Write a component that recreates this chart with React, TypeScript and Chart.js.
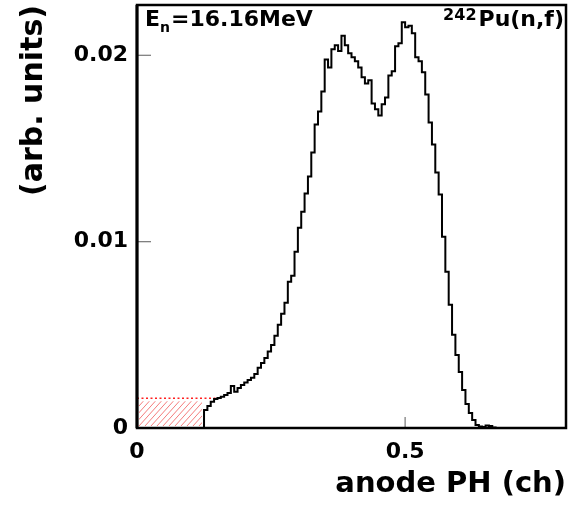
import React, { useEffect, useRef } from "react";
import { Chart, registerables } from "chart.js";

Chart.register(...registerables);

// ---- data ----
const BIN_START = 0.125;
const BIN_WIDTH = 0.00625;
const COUNTS = [
  0.00097, 0.00118, 0.00141, 0.00156, 0.00161, 0.00168, 0.00177, 0.00188, 0.00226, 0.00195,
  0.00215, 0.00231, 0.00244, 0.00258, 0.00269, 0.0029, 0.00323, 0.00349, 0.00376, 0.0041,
  0.00446, 0.00495, 0.00554, 0.00613, 0.00672, 0.00785, 0.00817, 0.00946, 0.01075, 0.01161,
  0.01258, 0.01349, 0.01478, 0.01629, 0.01699, 0.01806, 0.01978, 0.01935, 0.02032, 0.02054,
  0.02023, 0.02105, 0.02054, 0.02011, 0.01989, 0.01968, 0.01935, 0.01882, 0.01849, 0.01866,
  0.01742, 0.0171, 0.01677, 0.01737, 0.01774, 0.01892, 0.01914, 0.02048, 0.02065, 0.02177,
  0.02151, 0.02158, 0.02118, 0.01989, 0.01968, 0.01909, 0.0179, 0.0164, 0.01522, 0.01371,
  0.01253, 0.01027, 0.00839, 0.00661, 0.005, 0.00392, 0.00301, 0.00204, 0.00129, 0.00081,
  0.00043, 0.00016, 0.00008, 0.00005, 0.00013, 0.00011, 0.00003,
];
const THRESHOLD_LEVEL = 0.0016;
const HATCH_END = 0.125;
const DASH_END = 0.15;

const X_MIN = 0;
const X_MAX = 0.8;
const Y_MIN = 0;
const Y_MAX = 0.0227;
const X_TICKS = [0, 0.5];
const X_TICK_LABELS = ["0", "0.5"];
const Y_TICKS = [0, 0.01, 0.02];
const Y_TICK_LABELS = ["0", "0.01", "0.02"];

const X_TITLE = "anode PH (ch)";
const Y_TITLE = "(arb. units)";
const ENERGY_MAIN = "E";
const ENERGY_SUB = "n";
const ENERGY_REST = "=16.16MeV";
const REACTION_SUP = "242";
const REACTION_MAIN = "Pu(n,f)";

const FONT = "DejaVu Sans";

// hatched threshold region, positioned through the chart's scales
const hatchPlugin = {
  id: "thresholdHatch",
  beforeDatasetsDraw(chart: any) {
    const { ctx } = chart;
    const xs = chart.scales.x;
    const ys = chart.scales.y;
    const x0 = xs.getPixelForValue(0);
    const x1 = xs.getPixelForValue(HATCH_END);
    const y0 = ys.getPixelForValue(0);
    const y1 = ys.getPixelForValue(THRESHOLD_LEVEL);
    ctx.save();
    ctx.beginPath();
    ctx.rect(x0 + 2, y1 + 3, x1 - x0 - 4, y0 - y1 - 5);
    ctx.clip();
    ctx.strokeStyle = "rgba(240,80,80,0.75)";
    ctx.lineWidth = 1;
    const h = y0 - y1;
    for (let x = x0 - h; x < x1 + h; x += 6) {
      ctx.beginPath();
      ctx.moveTo(x, y0);
      ctx.lineTo(x + h * 0.9, y1);
      ctx.stroke();
    }
    ctx.restore();
  },
};

const framePlugin = {
  id: "rootFrame",
  afterDraw(chart: any) {
    const { ctx, chartArea } = chart;
    const { left, right, top, bottom } = chartArea;
    const xs = chart.scales.x;
    const ys = chart.scales.y;
    ctx.save();
    // inward ticks
    ctx.strokeStyle = "#808080";
    ctx.lineWidth = 1.3;
    ys.ticks.forEach((t: any) => {
      const p = ys.getPixelForValue(t.value);
      ctx.beginPath();
      ctx.moveTo(left, p);
      ctx.lineTo(left + 14, p);
      ctx.stroke();
    });
    xs.ticks.forEach((t: any) => {
      const p = xs.getPixelForValue(t.value);
      ctx.beginPath();
      ctx.moveTo(p, bottom);
      ctx.lineTo(p, bottom - 11);
      ctx.stroke();
    });
    // frame
    ctx.strokeStyle = "#000";
    ctx.lineWidth = 2.5;
    ctx.strokeRect(left, top, right - left, bottom - top);
    ctx.lineWidth = 3;
    ctx.beginPath();
    ctx.moveTo(left, top);
    ctx.lineTo(left, bottom);
    ctx.stroke();

    // annotations
    ctx.fillStyle = "#000";
    ctx.textBaseline = "alphabetic";
    ctx.textAlign = "left";
    let x = left + 8;
    const base = top + 21;
    ctx.font = `bold 22px "${FONT}"`;
    ctx.fillText(ENERGY_MAIN, x, base);
    x += ctx.measureText(ENERGY_MAIN).width;
    ctx.font = `bold 14px "${FONT}"`;
    ctx.fillText(ENERGY_SUB, x, base + 6);
    x += ctx.measureText(ENERGY_SUB).width + 1;
    ctx.font = `bold 22px "${FONT}"`;
    ctx.fillText(ENERGY_REST, x, base);

    ctx.font = `bold 22px "${FONT}"`;
    const wMain = ctx.measureText(REACTION_MAIN).width;
    const xr = right - 2 - wMain;
    ctx.fillText(REACTION_MAIN, xr, base);
    ctx.font = `bold 16px "${FONT}"`;
    const wSup = ctx.measureText(REACTION_SUP).width;
    ctx.fillText(REACTION_SUP, xr - wSup - 2, base - 6);
    ctx.restore();
  },
};

export default function App() {
  const ref = useRef<HTMLCanvasElement | null>(null);

  useEffect(() => {
    if (!ref.current) return;
    const histPoints: { x: number; y: number }[] = [{ x: X_MIN, y: 0 }];
    COUNTS.forEach((v, i) => {
      histPoints.push({ x: BIN_START + i * BIN_WIDTH, y: v });
    });
    const histEnd = BIN_START + COUNTS.length * BIN_WIDTH;
    histPoints.push({ x: histEnd, y: 0 });
    histPoints.push({ x: X_MAX, y: 0 });

    const chart = new Chart(ref.current, {
      type: "line",
      data: {
        datasets: [
          {
            data: histPoints,
            borderColor: "#000",
            borderWidth: 2,
            stepped: "before",
            pointRadius: 0,
            fill: false,
          },
          {
            data: [
              { x: 0, y: THRESHOLD_LEVEL },
              { x: DASH_END, y: THRESHOLD_LEVEL },
            ],
            borderColor: "#ff2020",
            borderWidth: 1.6,
            borderDash: [2, 2.5],
            pointRadius: 0,
            fill: false,
          },
        ],
      },
      options: {
        animation: false,
        responsive: false,
        devicePixelRatio: 1,
        layout: { padding: { top: 5, right: 8, left: 0, bottom: 0 } },
        plugins: {
          legend: { display: false },
          tooltip: { enabled: false },
        },
        scales: {
          x: {
            type: "linear",
            min: X_MIN,
            max: X_MAX,
            grid: { display: false, drawTicks: false },
            border: { display: false },
            afterBuildTicks: (s: any) => {
              s.ticks = X_TICKS.map((v) => ({ value: v }));
            },
            afterFit: (s: any) => {
              s.height = 87;
              s.paddingLeft = 0;
              s.paddingRight = 0;
            },
            ticks: {
              padding: 11,
              color: "#000",
              maxRotation: 0,
              autoSkip: false,
              font: { family: FONT, weight: "bold", size: 22 },
              callback: (v: any) => {
                const i = X_TICKS.indexOf(Number(v));
                return i >= 0 ? X_TICK_LABELS[i] : "";
              },
            },
            title: {
              display: true,
              text: X_TITLE,
              align: "end",
              color: "#000",
              font: { family: FONT, weight: "bold", size: 29 },
              padding: { top: 0, bottom: 13 },
            },
          },
          y: {
            type: "linear",
            min: Y_MIN,
            max: Y_MAX,
            grid: { display: false, drawTicks: false },
            border: { display: false },
            afterBuildTicks: (s: any) => {
              s.ticks = Y_TICKS.map((v) => ({ value: v }));
            },
            afterFit: (s: any) => {
              s.width = 137;
              s.paddingTop = 0;
              s.paddingBottom = 0;
            },
            ticks: {
              padding: 9,
              color: "#000",
              autoSkip: false,
              font: { family: FONT, weight: "bold", size: 22 },
              callback: (v: any) => {
                const i = Y_TICKS.indexOf(Number(v));
                return i >= 0 ? Y_TICK_LABELS[i] : "";
              },
            },
            title: {
              display: true,
              text: Y_TITLE,
              align: "end",
              color: "#000",
              font: { family: FONT, weight: "bold", size: 30 },
              padding: { top: 16, bottom: 0 },
            },
          },
        },
      },
      plugins: [hatchPlugin, framePlugin],
    });
    return () => chart.destroy();
  }, []);

  return (
    <div style={{ position: "fixed", left: 0, top: 0, width: 574, height: 515, background: "#fff" }}>
      <canvas ref={ref} width={574} height={515} style={{ width: 574, height: 515, display: "block" }} />
    </div>
  );
}
